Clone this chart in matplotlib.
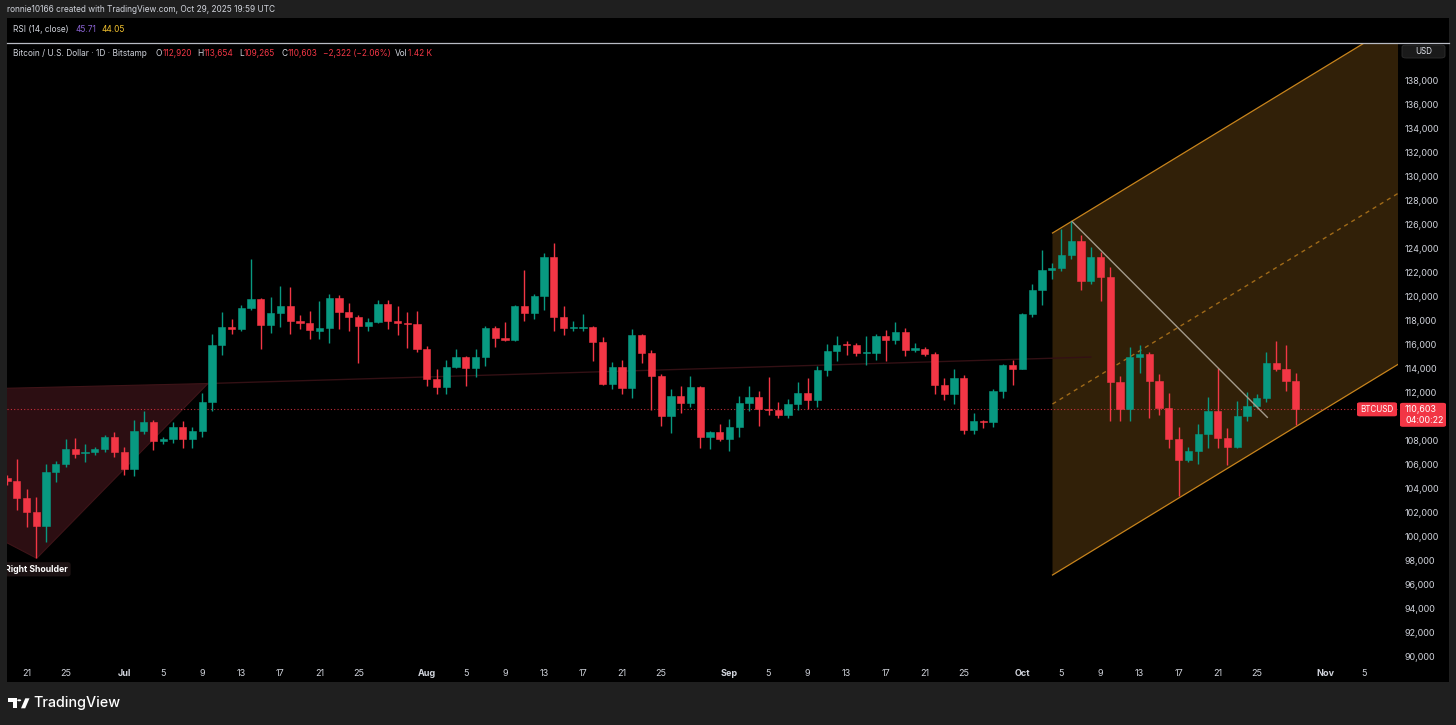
import matplotlib
matplotlib.use("Agg")
import matplotlib.pyplot as plt
import matplotlib.dates as mdates
from matplotlib.patches import Polygon, Rectangle, FancyBboxPatch, Circle
import pandas as pd

plt.rcParams['font.family'] = ['Inter', 'DejaVu Sans']

# ---------------- data (daily candles, BTC/USD Bitstamp) ----------------
start_date = "2025-06-19"
opens = [104870, 104600, 103220, 102060, 100920, 105360, 106030, 107300, 106950, 107050,
         107280, 108270, 107080, 105610, 108800, 109520, 107940, 108110, 109110, 108160,
         108830, 111190, 115930, 117480, 117310, 119030, 119780, 117640, 118620, 119170,
         117950, 117810, 117130, 117350, 119890, 118730, 118250, 117540, 117840, 119370,
         117950, 117810, 117730, 115620, 113150, 112440, 114130, 114960, 114020, 114930,
         117400, 116570, 116400, 119200, 118650, 120030, 123250, 118280, 117350, 117400,
         117480, 116180, 112740, 114150, 112380, 116790, 115290, 113400, 110070, 111700,
         111160, 112460, 108260, 108720, 108130, 109130, 111130, 111630, 110630, 110570,
         110110, 111020, 111990, 111420, 113870, 115430, 116010, 115930, 115250, 115320,
         116730, 116360, 117010, 115580, 115660, 115190, 112630, 111910, 113240, 108910,
         109660, 109580, 112100, 114290, 113990, 118560, 120520, 122200, 122330, 123420,
         124610, 121280, 123250, 121590, 112900, 110630, 114980, 115180, 112960, 110750,
         108110, 106360, 107130, 108580, 110500, 108250, 107500, 110050, 110910, 111580,
         114460, 113990, 112920]
highs = [105100, 106450, 103950, 103330, 106030, 106300, 108110, 108240, 107720, 107500,
         108470, 108690, 107440, 109720, 110490, 109720, 108330, 109570, 109630, 109110,
         111940, 116870, 118720, 118120, 119280, 123110, 119900, 119970, 120890, 120800,
         118450, 118810, 119620, 120200, 120110, 119470, 118450, 118170, 119700, 119700,
         119200, 118720, 118780, 115900, 113930, 114700, 115620, 115050, 115620, 117560,
         117540, 117840, 119300, 122190, 120200, 123610, 124420, 119220, 117950, 118510,
         117540, 116650, 114520, 114680, 117310, 116850, 115540, 113540, 112290, 112540,
         113400, 112540, 108830, 109380, 109800, 111710, 112520, 112130, 113290, 111220,
         111490, 112850, 113180, 114210, 116040, 116700, 116260, 116100, 116700, 116870,
         117200, 117840, 117400, 116100, 115790, 115350, 113210, 113930, 113460, 110270,
         109720, 112290, 114370, 114730, 118640, 121030, 123860, 122800, 125600, 126250,
         125110, 124130, 123720, 122470, 113380, 115760, 115950, 115400, 113520, 111940,
         109160, 107440, 109360, 111600, 114070, 109080, 111300, 112020, 111880, 115350,
         116290, 115950, 113654]
lows = [104300, 102230, 100840, 98210, 99590, 104580, 105830, 106530, 106250, 106800,
        107080, 106660, 105140, 105060, 108530, 107220, 107720, 107780, 107410, 107410,
        108330, 110490, 115120, 116870, 117150, 118870, 115650, 116990, 117430, 116840,
        117260, 116450, 116480, 116100, 117290, 117120, 114430, 117140, 117810, 117320,
        116790, 115680, 115400, 112570, 111880, 111850, 114040, 112570, 113320, 114200,
        115810, 116290, 116300, 117980, 118120, 118870, 117120, 116790, 117150, 117150,
        114630, 112630, 112270, 111880, 111570, 114480, 110550, 109240, 108660, 110320,
        110820, 107420, 107300, 108000, 107160, 108300, 110490, 109240, 110130, 109910,
        109910, 110550, 110630, 110820, 113380, 114650, 115100, 115070, 114290, 114710,
        114630, 116040, 115070, 115350, 115070, 111900, 111380, 111020, 108580, 108580,
        109030, 109160, 111520, 112630, 113930, 118280, 119260, 121440, 122140, 123080,
        120530, 121030, 119610, 109600, 109630, 109630, 113650, 109860, 110130, 107360,
        103420, 106250, 106060, 107360, 107360, 105970, 107360, 109660, 110710, 111190,
        113790, 112130, 109265]
closes = [104600, 103220, 102060, 100920, 105360, 106030, 107300, 106910, 107050, 107280,
          108270, 107080, 105610, 108800, 109520, 107940, 108110, 109110, 108160, 108830,
          111190, 115930, 117480, 117310, 119030, 119780, 117640, 118620, 119170, 117950,
          117810, 117230, 117350, 119890, 118730, 118250, 117540, 117840, 119370, 117950,
          117810, 117730, 115620, 113150, 112440, 114130, 114960, 114020, 114930, 117400,
          116570, 116400, 119200, 118650, 120030, 123250, 118280, 117350, 117400, 117480,
          116180, 112740, 114150, 112380, 116790, 115290, 113400, 110070, 111700, 111160,
          112460, 108260, 108720, 108130, 109130, 111130, 111630, 110630, 110570, 110110,
          111020, 111990, 111420, 113870, 115430, 115990, 115930, 115250, 115320, 116730,
          116360, 117010, 115580, 115660, 115190, 112630, 111910, 113240, 108910, 109630,
          109580, 112100, 114290, 113990, 118560, 120520, 122200, 122330, 123420, 124610,
          121280, 123250, 121590, 112900, 110630, 114980, 115180, 112960, 110750, 108110,
          106360, 107130, 108580, 110500, 108250, 107500, 110050, 110910, 111580, 114460,
          113990, 112925, 110603]

x_tick_dates = ["2025-06-21", "2025-06-25", "2025-07-01", "2025-07-05", "2025-07-09",
                "2025-07-13", "2025-07-17", "2025-07-21", "2025-07-25", "2025-08-01",
                "2025-08-05", "2025-08-09", "2025-08-13", "2025-08-17", "2025-08-21",
                "2025-08-25", "2025-09-01", "2025-09-05", "2025-09-09", "2025-09-13",
                "2025-09-17", "2025-09-21", "2025-09-25", "2025-10-01", "2025-10-05",
                "2025-10-09", "2025-10-13", "2025-10-17", "2025-10-21", "2025-10-25",
                "2025-11-01", "2025-11-05"]
x_tick_labels = ["21", "25", "Jul", "5", "9", "13", "17", "21", "25", "Aug", "5", "9",
                 "13", "17", "21", "25", "Sep", "5", "9", "13", "17", "21", "25", "Oct",
                 "5", "9", "13", "17", "21", "25", "Nov", "5"]
month_labels = ["Jul", "Aug", "Sep", "Oct", "Nov"]
price_ticks = [90000, 92000, 94000, 96000, 98000, 100000, 102000, 104000, 106000, 108000,
               112000, 114000, 116000, 118000, 120000, 122000, 124000, 126000, 128000,
               130000, 132000, 134000, 136000, 138000]

# drawings (date, price)
shoulder_dates = ["2025-05-21", "2025-07-09 14:00", "2025-06-22 01:00"]
shoulder_prices = [111800, 112750, 98210]
neck_dates = ["2025-07-09 14:00", "2025-10-08"]
neck_prices = [112750, 114950]
channel_dates = ["2025-10-04 02:00", "2025-11-10"]
channel_lower = [96820, 115100]
channel_upper = [125270, 143550]
trend_dates = ["2025-10-06 02:00", "2025-10-26 02:00"]
trend_prices = [126230, 109940]

# ---------------- figure ----------------
W, H = 1456, 725
fig = plt.figure(figsize=(W / 100, H / 100), dpi=100)
fig.patch.set_facecolor("#1f1f1f")

def fx(px):
    return px / W

def fy(py):
    return 1 - py / H

# black panel
fig.patches.append(Rectangle((fx(7), fy(682)), (1449 - 7) / W, (682 - 18) / H,
                             transform=fig.transFigure, facecolor="black",
                             edgecolor="none", zorder=-5))
# separator below RSI pane
fig.add_artist(plt.Line2D([fx(7), fx(1449)], [fy(42.7), fy(42.7)],
                          transform=fig.transFigure, color="#b8bbc4", lw=0.9))

ax = fig.add_axes([fx(7), fy(663), (1398 - 7) / W, (663 - 44) / H])
ax.set_facecolor("black")
for s in ax.spines.values():
    s.set_visible(False)

dates = pd.date_range(start_date, periods=len(closes), freq="D")
xs = mdates.date2num(dates)
ref = mdates.date2num(pd.Timestamp("2025-06-21"))
ax.set_xlim(ref - 1.998, ref + 140.47)
ax.set_ylim(89500, 140995)

UP, DN = "#089981", "#f23645"

def dn(lst):
    return [mdates.date2num(pd.Timestamp(d)) for d in lst]

# right shoulder triangle
sx = dn(shoulder_dates)
ax.add_patch(Polygon(list(zip(sx, shoulder_prices)), closed=True, facecolor="#2c0e12",
                     edgecolor="#3e1418", lw=0.8, zorder=1))
ax.plot(dn(neck_dates), neck_prices, color="#331014", lw=1.0, zorder=1.2)

# parallel channel
cx = dn(channel_dates)
ax.add_patch(Polygon([(cx[0], channel_lower[0]), (cx[1], channel_lower[1]),
                      (cx[1], channel_upper[1]), (cx[0], channel_upper[0])],
                     closed=True, facecolor="#312008", edgecolor="none", zorder=1))
ax.plot(cx, channel_lower, color="#c8841c", lw=0.9, zorder=2)
ax.plot(cx, channel_upper, color="#c8841c", lw=0.9, zorder=2)
mid = [(a + b) / 2 for a, b in zip(channel_lower, channel_upper)]
ax.plot(cx, mid, color="#a06a18", lw=1.0, ls=(0, (3, 3)), zorder=2)

# last price line
last = closes[-1]
ax.axhline(last, color=DN, lw=0.8, ls=(0, (1, 2)), alpha=0.8, zorder=2.5)

# candles
cols = [UP if c >= o else DN for o, c in zip(opens, closes)]
ax.vlines(xs, lows, highs, colors=cols, lw=1.0, zorder=3)
bottoms = [min(o, c) for o, c in zip(opens, closes)]
heights = [max(abs(c - o), 90) for o, c in zip(opens, closes)]
ax.bar(xs, heights, bottom=bottoms, width=0.74, color=cols, edgecolor=cols, lw=0.4,
       zorder=3.2)

# trend line
ax.plot(dn(trend_dates), trend_prices, color="#a39a8b", lw=1.0, zorder=4)

# Right shoulder label
ax.annotate("Right Shoulder", xy=(sx[2], shoulder_prices[2]), xytext=(0, -11),
            textcoords="offset pixels", ha="center", va="center", color="white",
            fontsize=6.3, fontweight="bold", zorder=6, clip_on=True,
            bbox=dict(boxstyle="round,pad=0.3", fc="#1c1213", ec="none"))

# axes ticks
ax.set_xticks(dn(x_tick_dates))
ax.set_xticklabels(x_tick_labels)
for t in ax.get_xticklabels():
    t.set_color("#d1d4dc")
    t.set_fontsize(6.5)
    if t.get_text() in month_labels:
        t.set_fontweight("bold")
ax.tick_params(axis="x", length=0, pad=4.5)
ax.yaxis.tick_right()
ax.set_yticks(price_ticks)
ax.set_yticklabels([f"{p:,}" for p in price_ticks])
ax.tick_params(axis="y", length=0, pad=5, labelsize=6.5, labelcolor="#d1d4dc")

# price labels on the right, positioned from the last close
fig.canvas.draw()
_, ly = ax.transData.transform((0, last))
ly_top = H - ly  # pixel from top
fig.patches.append(FancyBboxPatch((fx(1357), fy(ly_top + 7)), 40 / W, 14 / H,
                                  boxstyle="round,pad=0,rounding_size=0.002",
                                  transform=fig.transFigure, fc=DN, ec="none", zorder=5))
fig.text(fx(1377), fy(ly_top), "BTCUSD", color="white", fontsize=5.8,
         ha="center", va="center", zorder=6)
fig.patches.append(FancyBboxPatch((fx(1400), fy(ly_top + 17.5)), 46 / W, 24 / H,
                                  boxstyle="round,pad=0,rounding_size=0.002",
                                  transform=fig.transFigure, fc=DN, ec="none", zorder=5))
fig.text(fx(1405), fy(ly_top + 0.5), f"{last:,}", color="white", fontsize=6.4,
         ha="left", va="center", zorder=6)
fig.text(fx(1405), fy(ly_top + 11), "04:00:22", color="white", fontsize=6.4,
         ha="left", va="center", zorder=6)

# USD box
fig.patches.append(FancyBboxPatch((fx(1402), fy(58)), 43 / W, 13 / H,
                                  boxstyle="round,pad=0,rounding_size=0.003",
                                  transform=fig.transFigure, fc="#1a1a1a", ec="#2e2e2e",
                                  lw=0.6, zorder=5))
fig.text(fx(1423.5), fy(51.5), "USD", color="#e0e3eb", fontsize=5.8, ha="center",
         va="center", zorder=6)

# ---------------- header texts ----------------
renderer = fig.canvas.get_renderer()

def runs(x0, y0, parts, size):
    x = x0
    for txt, col in parts:
        t = fig.text(fx(x), fy(y0), txt, color=col, fontsize=size, ha="left",
                     va="center")
        x += t.get_window_extent(renderer).width

FS = 6.0
WHITE = "#d1d4dc"
fig.text(fx(7), fy(10), "ronnie10166 created with TradingView.com, Oct 29, 2025 19:59 UTC",
         color=WHITE, fontsize=FS, ha="left", va="center")
runs(13, 29.5, [("RSI (14, close)", WHITE)], FS)
runs(75, 29.5, [("45.71", "#8a63d2")], FS)
runs(101, 29.5, [("44.05", "#f2c12e")], FS)
runs(13, 53, [("Bitcoin / U.S. Dollar · 1D · Bitstamp", WHITE)], FS)
runs(156, 53, [("O", WHITE), (f"{opens[-1]:,}", DN)], FS)
runs(197, 53, [("H", WHITE), (f"{highs[-1]:,}", DN)], FS)
runs(239, 53, [("L", WHITE), (f"{lows[-1]:,}", DN)], FS)
runs(281, 53, [("C", WHITE), (f"{closes[-1]:,}", DN)], FS)
chg = closes[-1] - closes[-2]
runs(323, 53, [(f"\u2212{abs(chg):,} (\u2212{abs(chg) / closes[-2] * 100:.2f}%)", DN)], FS)
runs(395, 53, [("Vol", WHITE), ("1.42 K", DN)], FS)

# ---------------- footer logo ----------------
def P(px, py):
    return (fx(px), fy(py))

fig.patches.append(Polygon([P(8.3, 698.3), P(16.5, 698.3), P(16.5, 708.3), P(12.6, 708.3),
                            P(12.6, 701.8), P(8.3, 701.8)], closed=True,
                           transform=fig.transFigure, fc="white", ec="none"))
fig.patches.append(Circle(P(19.2, 700.3), 2.0 / W, transform=fig.transFigure,
                          fc="white", ec="none"))
fig.patches.append(Polygon([P(21.0, 708.3), P(25.2, 708.3), P(29.5, 698.3),
                            P(25.3, 698.3)], closed=True, transform=fig.transFigure,
                           fc="white", ec="none"))
fig.text(fx(33.5), fy(703.5), "TradingView", color="white", fontsize=10.3,
         fontweight="medium", ha="left", va="center")

fig.savefig("out.png", dpi=100, facecolor=fig.get_facecolor())
